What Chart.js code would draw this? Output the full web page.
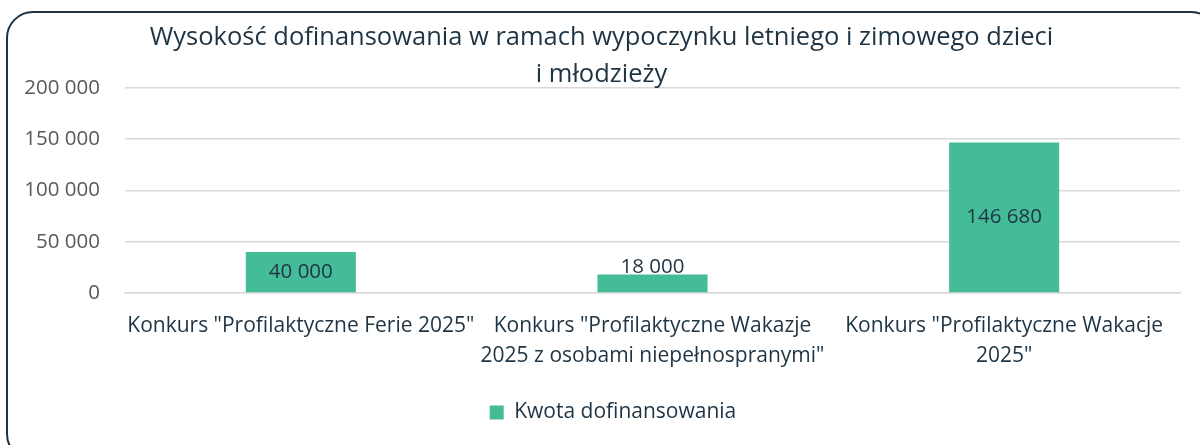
<!DOCTYPE html>
<html>
<head>
<meta charset="utf-8">
<script src="https://cdn.jsdelivr.net/npm/chart.js@4"></script>
<style>
html,body{margin:0;padding:0;background:#fff;}
#wrap{width:1200px;height:445px;position:relative;}
</style>
</head>
<body>
<div id="wrap"><canvas id="c" width="1200" height="445"></canvas></div>
<script>
const titleLines = ["Wysokość dofinansowania w ramach wypoczynku letniego i zimowego dzieci", "i młodzieży"];
const categories = [
  ['Konkurs "Profilaktyczne Ferie 2025"'],
  ['Konkurs "Profilaktyczne Wakazje', '2025 z osobami niepełnospranymi"'],
  ['Konkurs "Profilaktyczne Wakacje', '2025"']
];
const seriesName = "Kwota dofinansowania";
const values = [40000, 18000, 146680];
const yTicks = [0, 50000, 100000, 150000, 200000];

const FONT = "'Open Sans', Lato, sans-serif";
const DARK = "#1F3443";
const fmt = v => String(Math.round(v)).replace(/\B(?=(\d{3})+(?!\d))/g, " ");

const frame = {
  id: 'frame',
  beforeDraw(chart) {
    const ctx = chart.ctx;
    ctx.save();
    ctx.fillStyle = '#fff';
    ctx.fillRect(0, 0, chart.width, chart.height);
    ctx.strokeStyle = '#1F3443';
    ctx.lineWidth = 2;
    ctx.beginPath();
    ctx.roundRect(7, 12, 1210, 448, 26);
    ctx.stroke();
    ctx.restore();
  }
};

const shiftBlocks = {
  id: 'shiftBlocks',
  afterLayout(chart) {
    if (chart.titleBlock) { chart.titleBlock.left = 0; chart.titleBlock.right = 1203; }
    if (chart.legend) { chart.legend.left += 23; chart.legend.right += 23; }
  }
};

const barLabels = {
  id: 'barLabels',
  afterDatasetsDraw(chart) {
    const ctx = chart.ctx;
    const meta = chart.getDatasetMeta(0);
    ctx.save();
    ctx.font = "20.5px " + FONT;
    ctx.fillStyle = DARK;
    ctx.textAlign = 'center';
    ctx.textBaseline = 'middle';
    meta.data.forEach((bar, i) => {
      const h = bar.base - bar.y;
      let y = (bar.y + bar.base) / 2;
      if (h < 30) y = bar.y - 7;
      ctx.fillText(fmt(values[i]), bar.x, y);
    });
    ctx.restore();
  }
};

new Chart(document.getElementById('c'), {
  type: 'bar',
  data: {
    labels: categories,
    datasets: [{
      label: seriesName,
      data: values,
      backgroundColor: '#45BC98',
      borderWidth: 0,
      categoryPercentage: 1,
      barPercentage: 0.313
    }]
  },
  options: {
    responsive: false,
    animation: false,
    devicePixelRatio: 1,
    layout: { padding: { top: 0, right: 20, bottom: 12, left: 0 } },
    plugins: {
      title: {
        display: true,
        text: titleLines,
        color: DARK,
        font: { family: FONT, size: 25.5, weight: 'normal', lineHeight: 1.45 },
        padding: { top: 19, bottom: -5 }
      },
      legend: {
        display: true,
        position: 'bottom',
        labels: {
          color: DARK,
          font: { family: FONT, size: 21 },
          boxWidth: 14,
          boxHeight: 14,
          padding: 10
        }
      },
      tooltip: { enabled: false }
    },
    scales: {
      x: {
        grid: { display: false, drawTicks: false },
        border: { display: true, color: '#D9D9D9', width: 1.5 },
        ticks: {
          color: DARK,
          font: { family: FONT, size: 21, lineHeight: 1.43 },
          padding: 18,
          maxRotation: 0,
          autoSkip: false
        },
        afterFit(s) { s.height = 99; }
      },
      y: {
        min: 0,
        max: 200000,
        afterBuildTicks(s) { s.ticks = yTicks.map(v => ({ value: v })); },
        grid: { color: '#D9D9D9', lineWidth: 1.5, drawTicks: false },
        border: { display: false },
        ticks: {
          color: '#595959',
          font: { family: FONT, size: 20.5 },
          padding: 25,
          callback: v => fmt(v)
        },
        afterFit(s) { s.width = 125; }
      }
    }
  },
  plugins: [frame, shiftBlocks, barLabels]
});
</script>
</body>
</html>
